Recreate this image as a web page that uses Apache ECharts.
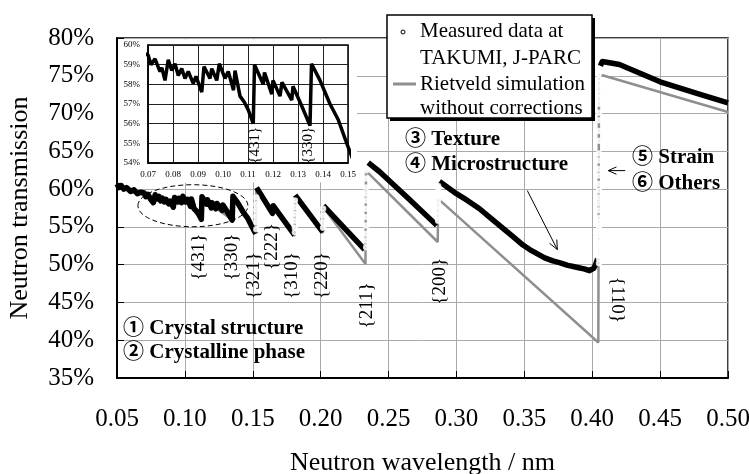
<!DOCTYPE html>
<html>
<head>
<meta charset="utf-8">
<script src="https://cdn.jsdelivr.net/npm/echarts@6/dist/echarts.min.js"></script>
<style>
html, body { margin: 0; padding: 0; background: #fff; }
#chart { width: 749px; height: 474px; }
</style>
</head>
<body>
<div id="chart"></div>
<script>
// measured transmission (wavelength nm, %), '-' breaks the line at Bragg edges
var measured = [
    [0.0500, 60.7], [0.0515, 60.2], [0.0530, 60.5], [0.0550, 60.0], [0.0570, 60.2], [0.0600, 59.7],
    [0.0625, 59.9], [0.0650, 59.4], [0.0675, 59.6], [0.0700, 59.5], [0.0712, 59.0], [0.0728, 59.3],
    [0.0748, 58.65], [0.0755, 58.85], [0.0768, 58.2], [0.0781, 59.25], [0.0795, 58.7], [0.0808, 59.05],
    [0.0821, 58.45], [0.0835, 58.8], [0.0848, 58.3], [0.0861, 58.65], [0.0881, 58.05], [0.0892, 58.4],
    [0.0915, 57.6], [0.0924, 58.9], [0.0948, 58.3], [0.0955, 58.8], [0.0975, 58.2], [0.0985, 59.05],
    [0.1008, 58.3], [0.1021, 58.65], [0.1042, 57.7], [0.1048, 58.7], [0.1068, 57.4], [0.1085, 57.1],
    [0.1101, 56.7], [0.1121, 56.0], [0.1126, 59.0], [0.1161, 58.0], [0.1166, 58.6], [0.1195, 57.5],
    [0.1200, 58.2], [0.1228, 57.4], [0.1236, 58.1], [0.1275, 57.2], [0.1280, 57.9], [0.1315, 56.9],
    [0.1348, 55.9], [0.1354, 59.05], [0.1388, 58.2], [0.1428, 57.0], [0.1461, 56.2], [0.1495, 55.0],
    [0.1522, 54.1], [0.1524, '-'],
    [0.1528, 60.2], [0.1645, 56.8], [0.1650, 57.8], [0.1808, 53.9], [0.1810, '-'],
    [0.1812, 59.2], [0.2016, 54.3], [0.2018, '-'],
    [0.2020, 57.8], [0.2324, 52.0], [0.2337, '-'],
    [0.2350, 63.5], [0.2434, 62.3], [0.2650, 58.7], [0.2855, 55.2], [0.2865, '-'],
    [0.2875, 61.0], [0.3000, 59.4], [0.3080, 58.5], [0.3170, 57.4], [0.3250, 56.2], [0.3330, 55.0],
    [0.3410, 53.8], [0.3490, 52.6], [0.3540, 52.0], [0.3600, 51.4], [0.3650, 50.9], [0.3710, 50.5],
    [0.3770, 50.2], [0.3820, 49.9], [0.3860, 49.75], [0.3900, 49.6], [0.3940, 49.45], [0.3980, 49.2],
    [0.4010, 49.5], [0.4025, 50.0], [0.4040, 50.8],
    [0.4050, '-'],
    [0.4060, 76.3], [0.4075, 76.9], [0.4088, 77.1], [0.4200, 76.5], [0.4500, 74.2], [0.4800, 72.5],
    [0.5000, 71.4]
];

// sparse measured points on the steep edges
var jumpDots = [
    [0.1526, 54.7], [0.1526, 55.6], [0.1526, 56.4], [0.1526, 57.25], [0.1526, 58.0], [0.1526, 58.9],
    [0.1810, 54.3], [0.1810, 54.9], [0.1810, 55.8], [0.1810, 56.7], [0.1810, 57.6], [0.1810, 58.5],
    [0.2018, 54.9], [0.2018, 55.6], [0.2018, 56.5], [0.2018, 57.4],
    [0.2335, 52.3], [0.2335, 53.2], [0.2335, 54.1], [0.2335, 55.2], [0.2335, 56.3], [0.2335, 57.4],
    [0.2335, 58.5], [0.2335, 59.4], [0.2335, 60.2], [0.2335, 61.4], [0.2335, 62.5],
    [0.2865, 55.8], [0.2865, 56.5], [0.2865, 57.2], [0.2865, 57.8], [0.2865, 58.5], [0.2865, 59.1],
    [0.2865, 59.8], [0.2865, 60.4],
    [0.4050, 50.2], [0.4050, 50.8], [0.4050, 51.2], [0.4050, 51.6], [0.4050, 52.1], [0.4050, 52.5],
    [0.4050, 52.9], [0.4050, 53.4], [0.4050, 53.9], [0.4050, 54.3], [0.4050, 54.8], [0.4050, 55.2],
    [0.4050, 55.6], [0.4050, 56.2], [0.4050, 57.2], [0.4050, 58.1], [0.4050, 58.9], [0.4050, 59.8],
    [0.4050, 60.7], [0.4050, 61.8], [0.4050, 62.7], [0.4050, 63.8], [0.4050, 64.7], [0.4050, 66.4],
    [0.4050, 67.7], [0.4050, 69.1], [0.4050, 70.1], [0.4050, 71.3], [0.4050, 72.0], [0.4050, 72.6],
    [0.4050, 73.3], [0.4050, 74.0], [0.4050, 74.6], [0.4050, 75.3]
];

// Rietveld simulation without corrections
var rietveld = [
    [0.0500, 60.3], [0.0700, 59.2], [0.0900, 58.3], [0.1040, 58.0], [0.1120, 56.2], [0.1124, 58.8],
    [0.1352, 55.9], [0.1356, 58.9], [0.1522, 54.1], [0.1526, 60.0], [0.1645, 56.6], [0.1650, 57.6],
    [0.1808, 53.8], [0.1812, 59.0], [0.2016, 54.2], [0.2020, 57.6], [0.2330, 50.1], [0.2334, 62.4],
    [0.2862, 53.0], [0.2866, 58.7], [0.4045, 39.7], [0.4050, 75.2], [0.5000, 70.2]
];

// hkl labels (position in data units)
var hklNames = ['{431}', '{330}', '{321}', '{222}', '{310}', '{220}', '{211}', '{200}', '{110}'];
var hklX = [0.1103, 0.1346, 0.1507, 0.1643, 0.1790, 0.2011, 0.2338, 0.2877, 0.4186];
var hklY = [51.0, 51.0, 48.55, 52.4, 48.55, 48.55, 44.6, 47.8, 45.35];
var insetHklNames = ['{431}', '{330}'];
var insetHklX = [0.1128, 0.1340];
var insetHklY = [54.9, 54.9];

var SERIF = 'Liberation Serif';
var BOLD = 'bold 21px "Liberation Serif", "Noto Sans CJK JP", serif';

var chart = echarts.init(document.getElementById('chart'));

var option = {
    animation: false,
    backgroundColor: '#fff',
    grid: [
        { left: 117, top: 38, width: 611, height: 340, show: true, borderColor: '#000', borderWidth: 1.5,
          backgroundColor: 'transparent', outerBoundsMode: 'none' },
        { left: 148, top: 45, width: 200, height: 118, show: true, borderColor: '#000', borderWidth: 1.5,
          backgroundColor: '#fff', outerBoundsMode: 'none', z: 4 }
    ],
    xAxis: [
        {
            type: 'value', gridIndex: 0, min: 0.05, max: 0.5, interval: 0.05,
            axisLine: { show: true, onZero: false, lineStyle: { color: '#000', width: 2 } },
            axisTick: { show: true, inside: true, length: 7, lineStyle: { color: '#000' } },
            axisLabel: { margin: 29, fontSize: 25, fontFamily: SERIF, color: '#000',
                formatter: function (v) { return v.toFixed(2); } },
            splitLine: { show: true, lineStyle: { color: '#aaa', width: 1 } },
            name: 'Neutron wavelength / nm', nameLocation: 'middle', nameGap: 72,
            nameTextStyle: { fontSize: 26, fontFamily: SERIF, color: '#000' }
        },
        {
            type: 'value', gridIndex: 1, min: 0.07, max: 0.15, interval: 0.01, z: 4,
            axisLine: { show: true, onZero: false, lineStyle: { color: '#000', width: 1.5 } },
            axisTick: { show: false },
            axisLabel: { margin: 7, fontSize: 9, fontFamily: SERIF, color: '#000',
                formatter: function (v) { return v.toFixed(2); } },
            splitLine: { show: true, lineStyle: { color: '#222', width: 1 } }
        }
    ],
    yAxis: [
        {
            type: 'value', gridIndex: 0, min: 35, max: 80, interval: 5,
            axisLine: { show: true, onZero: false, lineStyle: { color: '#000', width: 2 } },
            axisTick: { show: true, inside: true, length: 7, lineStyle: { color: '#000' } },
            axisLabel: { margin: 23, fontSize: 25, fontFamily: SERIF, color: '#000', formatter: '{value}%' },
            splitLine: { show: true, lineStyle: { color: '#aaa', width: 1 } },
            name: 'Neutron transmission', nameLocation: 'middle', nameGap: 84,
            nameTextStyle: { fontSize: 26, fontFamily: SERIF, color: '#000' }
        },
        {
            type: 'value', gridIndex: 1, min: 54, max: 60, interval: 1, z: 4,
            axisLine: { show: true, onZero: false, lineStyle: { color: '#000', width: 1.5 } },
            axisTick: { show: false },
            axisLabel: { margin: 8, fontSize: 9, fontFamily: SERIF, color: '#000', formatter: '{value}%' },
            splitLine: { show: true, lineStyle: { color: '#222', width: 1 } }
        }
    ],
    series: [
        {
            name: 'Rietveld simulation without corrections', type: 'line', xAxisIndex: 0, yAxisIndex: 0,
            data: rietveld, showSymbol: false, symbol: 'none', z: 2,
            lineStyle: { color: '#8f8f8f', width: 2.5 }
        },
        {
            name: 'Measured data at TAKUMI, J-PARC', type: 'line', xAxisIndex: 0, yAxisIndex: 0,
            data: measured, showSymbol: false, symbol: 'none', connectNulls: false, z: 2,
            lineStyle: { color: '#000', width: 5.5, join: 'round' }
        },
        {
            name: 'edges', type: 'scatter', xAxisIndex: 0, yAxisIndex: 0,
            data: jumpDots, symbol: 'emptyCircle', symbolSize: 4.5, z: 2,
            itemStyle: { color: '#fff', borderColor: '#333', borderWidth: 1.2 }
        },
        {
            name: 'inset', type: 'line', xAxisIndex: 1, yAxisIndex: 1,
            data: measured, showSymbol: false, symbol: 'none', clip: true, z: 5,
            lineStyle: { color: '#000', width: 3.5 }
        }
    ]
};
chart.setOption(option);

function px(g, x, y) {
    return chart.convertToPixel({ gridIndex: g }, [x, y]);
}

function text(str, x, y, font, align, rot) {
    return {
        type: 'text', x: x, y: y, rotation: rot || 0, z: 8,
        style: { text: str, font: font, fill: '#000', textAlign: align || 'left', textVerticalAlign: 'middle' }
    };
}

function arrow(p1, p2, len) {
    var a = Math.atan2(p2[1] - p1[1], p2[0] - p1[0]);
    var h1 = [p2[0] - len * Math.cos(a - 0.42), p2[1] - len * Math.sin(a - 0.42)];
    var h2 = [p2[0] - len * Math.cos(a + 0.42), p2[1] - len * Math.sin(a + 0.42)];
    var st = { stroke: '#000', lineWidth: 1, fill: null };
    return [
        { type: 'line', z: 8, shape: { x1: p1[0], y1: p1[1], x2: p2[0], y2: p2[1] }, style: st },
        { type: 'polyline', z: 8, shape: { points: [h1, p2, h2] }, style: st }
    ];
}

var g = [];
// white box behind the inset
g.push({ type: 'rect', z: 3, shape: { x: 118, y: 39.5, width: 239, height: 143 },
    style: { fill: '#fff', stroke: null } });

// hkl labels
for (var i = 0; i < hklNames.length; i++) {
    var p = px(0, hklX[i], hklY[i]);
    var rot = hklNames[i] === '{110}' ? -Math.PI / 2 : Math.PI / 2;
    g.push(text(hklNames[i], p[0], p[1], '19px "Liberation Serif", serif', 'center', rot));
}
for (var j = 0; j < insetHklNames.length; j++) {
    var q = px(1, insetHklX[j], insetHklY[j]);
    var t = text(insetHklNames[j], q[0], q[1], '15px "Liberation Serif", serif', 'center', Math.PI / 2);
    t.z = 6;
    g.push(t);
}

// dashed ellipse round the region shown in the inset
var c = px(0, 0.1059, 57.8);
g.push({ type: 'ellipse', z: 8, shape: { cx: c[0], cy: c[1], rx: 55, ry: 21 },
    style: { stroke: '#000', lineWidth: 1, lineDash: [5, 3], fill: null } });

// annotations
g.push(text('\u2460 Crystal structure', 123, 329, BOLD));
g.push(text('\u2461 Crystalline phase', 123, 353, BOLD));
g.push(text('\u2462 Texture', 405, 140, BOLD));
g.push(text('\u2463 Microstructure', 405, 165, BOLD));
g.push(text('\u2464 Strain', 632, 158, BOLD));
g.push(text('\u2465 Others', 632, 184, BOLD));
g = g.concat(arrow(px(0, 0.3522, 59.8), px(0, 0.3743, 52.0), 10));
g = g.concat(arrow(px(0, 0.4243, 62.45), px(0, 0.4118, 62.45), 9));

// legend box
g.push({ type: 'rect', z: 10, shape: { x: 390, y: 18, width: 205, height: 103 }, style: { fill: '#000' } });
g.push({ type: 'rect', z: 11, shape: { x: 387, y: 15, width: 205, height: 103 },
    style: { fill: '#fff', stroke: '#000', lineWidth: 1.5 } });
g.push({ type: 'circle', z: 12, shape: { cx: 403, cy: 32, r: 2 },
    style: { fill: '#fff', stroke: '#000', lineWidth: 1 } });
g.push({ type: 'line', z: 12, shape: { x1: 393, y1: 84, x2: 416, y2: 84 },
    style: { stroke: '#8f8f8f', lineWidth: 3 } });
var LEG = '21px "Liberation Serif", serif';
var legTexts = [['Measured data at', 31], ['TAKUMI, J-PARC', 58], ['Rietveld simulation', 84], ['without corrections', 108]];
legTexts.forEach(function (l) {
    var e = text(l[0], 420, l[1], LEG);
    e.z = 12;
    g.push(e);
});

chart.setOption({ graphic: g });
</script>
</body>
</html>
